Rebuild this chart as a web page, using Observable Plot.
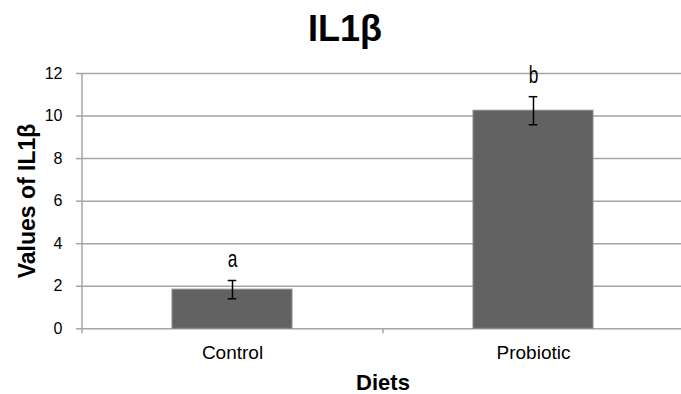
<!DOCTYPE html>
<html><head><meta charset="utf-8">
<script src="https://cdn.jsdelivr.net/npm/d3@7"></script>
<script src="https://cdn.jsdelivr.net/npm/@observablehq/plot@0.6"></script>
<style>body{margin:0;background:#fff} svg{display:block}</style>
</head><body><div id="chart"></div>
<script>
const diets = ["Control", "Probiotic"];
const means = [1.84, 10.25];
const errors = [0.43, 0.66];
const letters = ["a", "b"];
const yTicks = [0, 2, 4, 6, 8, 10, 12];
const titleText = "IL1β";
const xLabel = "Diets";
const yLabel = "Values of IL1β";

const data = diets.map((d, i) => ({diet: d, mean: means[i], err: errors[i], letter: letters[i]}));

const W = 681, H = 394, pLeft = 82, pRight = 684, pTop = 73, pBottom = 328.3;
const pi = 0.6, po = 0.3;
const step = (pRight - pLeft) / (diets.length - pi + 2 * po);
const bw = step * (1 - pi);
const capW = 9;
const grid = "#a6a6a6";
const font = "'Liberation Sans', Arial, sans-serif";

const chart = Plot.plot({
  width: W, height: H,
  marginLeft: pLeft, marginRight: 0, marginTop: pTop, marginBottom: H - pBottom,
  style: {fontFamily: font, background: "#fff", overflow: "visible", color: "#000"},
  x: {domain: diets, range: [pLeft, pRight], paddingInner: pi, paddingOuter: po, label: null},
  y: {domain: [0, 12], ticks: yTicks, label: null},
  marks: [
    Plot.ruleY(yTicks, {stroke: grid, strokeWidth: 1.5}),
    Plot.tickX(diets.slice(0, 1), {x: d => d, dx: -step / 2, stroke: grid, strokeWidth: 1.5, insetBottom: -5}),
    Plot.tickX(diets.slice(1), {x: d => d, dx: -step / 2, stroke: grid, strokeWidth: 1.5, insetTop: pBottom - pTop, insetBottom: -5}),
    Plot.barY(data, {x: "diet", y: "mean", fill: "#626262", stroke: "#8a8a8a", strokeWidth: 1}),
    Plot.ruleX(data, {x: "diet", y1: d => d.mean - d.err, y2: d => d.mean + d.err, stroke: "#000", strokeWidth: 1.5}),
    Plot.tickY(data, {x: "diet", y: d => d.mean + d.err, stroke: "#000", strokeWidth: 1.5, insetLeft: (bw - capW) / 2, insetRight: (bw - capW) / 2}),
    Plot.tickY(data, {x: "diet", y: d => d.mean - d.err, stroke: "#000", strokeWidth: 1.5, insetLeft: (bw - capW) / 2, insetRight: (bw - capW) / 2}),
    Plot.text(data, {x: "diet", y: d => d.mean + d.err, text: "letter", dy: -14, lineAnchor: "bottom", fontSize: 24, fill: "#000", className: "sig"}),
    Plot.axisY({ticks: yTicks, tickSize: 6, tickPadding: 14, fontSize: 16, stroke: grid, strokeWidth: 1.5, fill: "#000", label: null}),
    Plot.axisX({tickSize: 0, tickPadding: 17, fontSize: 19, fill: "#000", label: null})
  ]
});

const svg = d3.select(chart);
svg.selectAll(".sig text").each(function () {
  const t = this.getAttribute("transform") || "";
  this.setAttribute("transform", t + " scale(0.72,1)");
});
svg.append("text").attr("x", 345).attr("y", 40.5).attr("text-anchor", "middle")
  .attr("font-family", font).attr("font-weight", "bold").attr("font-size", 36).attr("fill", "#000").text(titleText);
svg.append("text").attr("x", 383).attr("y", 389.5).attr("text-anchor", "middle")
  .attr("font-family", font).attr("font-weight", "bold").attr("font-size", 22).attr("fill", "#000").text(xLabel);
svg.append("text").attr("transform", "translate(35,201) rotate(-90)").attr("text-anchor", "middle")
  .attr("font-family", font).attr("font-weight", "bold").attr("font-size", 23).attr("fill", "#000").text(yLabel);

document.getElementById("chart").appendChild(chart);
</script>
</body></html>
